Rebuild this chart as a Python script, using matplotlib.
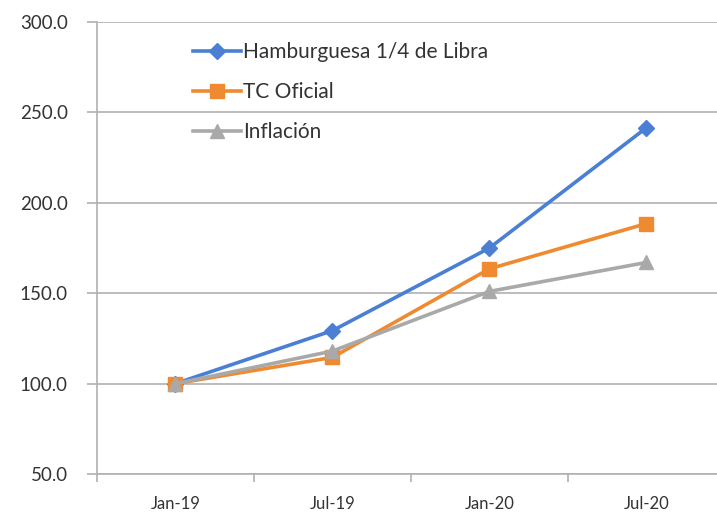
import matplotlib
matplotlib.use("Agg")
import matplotlib.pyplot as plt

# data
periods = ["Jan-19", "Jul-19", "Jan-20", "Jul-20"]
hamburguesa = [100.0, 129.3, 175.0, 241.5]
tc_oficial = [100.0, 114.5, 163.5, 188.5]
inflacion = [100.0, 118.0, 151.0, 167.0]
y_ticks = [50, 100, 150, 200, 250, 300]

plt.rcParams["font.family"] = ["Lato", "DejaVu Sans"]

fig = plt.figure(figsize=(7.17, 5.15), dpi=100)
ax = fig.add_axes([0.1353, 0.0796, 0.8757, 0.8777])

x = range(len(periods))
ax.plot(x, hamburguesa, color="#4A7FD4", lw=2.6, marker="D", ms=8,
        label="Hamburguesa 1/4 de Libra", zorder=3)
ax.plot(x, tc_oficial, color="#F08A30", lw=2.6, marker="s", ms=10,
        label="TC Oficial", zorder=3)
ax.plot(x, inflacion, color="#A9A9A9", lw=2.6, marker="^", ms=10,
        label="Inflación", zorder=3)

ax.set_xlim(-0.5, 3.5)
ax.set_ylim(50, 300)
ax.set_yticks(y_ticks)
ax.set_yticklabels([f"{v:.1f}" for v in y_ticks])
ax.set_xticks(list(x))
ax.set_xticklabels(periods)
ax.set_xticks([i - 0.5 for i in range(len(periods) + 1)], minor=True)

ax.grid(axis="y", color="#B0B0B0", lw=1.2)
ax.set_axisbelow(True)
for side in ["top", "right"]:
    ax.spines[side].set_visible(False)
for side in ["left", "bottom"]:
    ax.spines[side].set_color("#B0B0B0")
    ax.spines[side].set_linewidth(1.2)

ax.tick_params(axis="y", length=7, width=1.2, color="#B0B0B0",
               labelsize=13.5, labelcolor="#333333", pad=14)
ax.tick_params(axis="x", which="major", length=0, labelsize=12,
               labelcolor="#333333", pad=16)
ax.tick_params(axis="x", which="minor", length=6, width=1.2, color="#B0B0B0")

ax.legend(loc="upper left", bbox_to_anchor=(0.137, 0.978), frameon=False,
          fontsize=15, handlelength=2.3, handletextpad=0.1,
          labelspacing=0.95, borderpad=0, labelcolor="#333333")

fig.savefig("out.png", dpi=100)
